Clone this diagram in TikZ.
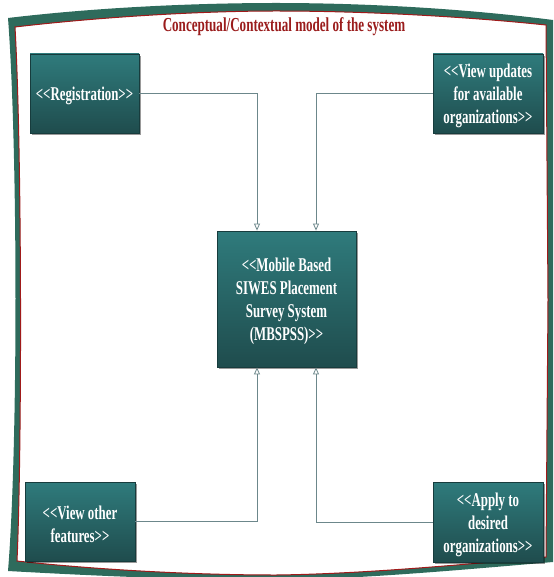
\documentclass[tikz,border=0pt]{standalone}
\usepackage{fontspec}
\setmainfont{Liberation Serif}[FakeStretch=0.66]
\usetikzlibrary{arrows.meta,shadows}
\definecolor{boxtop}{HTML}{2F7B7C}
\definecolor{boxbot}{HTML}{1F4C4D}
\definecolor{boxline}{HTML}{173C3D}
\definecolor{framegreen}{HTML}{2E6B5C}
\definecolor{framered}{HTML}{A01A1A}
\definecolor{titlered}{HTML}{9A1C1C}
\definecolor{connc}{HTML}{6C878B}
\newcommand\LLt{<\kern0pt<}
\newcommand\GGt{>\kern0pt>}
\tikzset{
  ubox/.style={draw=boxline, line width=0.8pt, top color=boxtop, bottom color=boxbot,
    inner sep=0pt,
    drop shadow={shadow xshift=1.8pt, shadow yshift=-2pt, opacity=0.4, fill=black}},
  btext/.style={text=white, align=center, inner sep=0pt,
    font=\bfseries\fontsize{19.5}{23}\selectfont},
  conn/.style={draw=connc, line width=0.8pt, -{Triangle[open, length=7pt, width=6pt]}},
}
\begin{document}
\begin{tikzpicture}[x=1pt, y=-1pt]
\useasboundingbox (0,0) rectangle (553,577);
% frame
\fill[framegreen, even odd rule]
  (8,18) .. controls (100,7) and (200,3) .. (276,3) .. controls (360,3) and (460,8) .. (553,20)
  -- (553,562) .. controls (460,570) and (360,579) .. (276,580) .. controls (180,580) and (80,575) .. (8,571)
  .. controls (18,450) and (18,150) .. (8,18) -- cycle
  (15,27) .. controls (100,17) and (200,11) .. (276,11) .. controls (360,11) and (460,16) .. (546,25)
  -- (548,300) -- (546,557) .. controls (460,565) and (360,574) .. (276,575) .. controls (180,575) and (80,568) .. (17,561)
  .. controls (22,450) and (22,150) .. (15,27) -- cycle;
\draw[framered, line width=1pt]
  (15,27) .. controls (100,17) and (200,11) .. (276,11) .. controls (360,11) and (460,16) .. (546,25)
  -- (548,300) -- (546,557) .. controls (460,565) and (360,574) .. (276,575) .. controls (180,575) and (80,568) .. (17,561)
  .. controls (22,450) and (22,150) .. (15,27) -- cycle;
% title
\node[text=titlered, font=\bfseries\fontsize{19.8}{20}\selectfont] (title) at (284,27) {Conceptual/Contextual model of the system};
% boxes
\node[ubox, minimum width=109pt, minimum height=79pt] (reg) at (84.5,93.5) {};
\node[ubox, minimum width=110pt, minimum height=79pt] (upd) at (488,93.5) {};
\node[ubox, minimum width=139pt, minimum height=136pt] (cen) at (286.5,299) {};
\node[ubox, minimum width=110pt, minimum height=79pt] (oth) at (80,521.5) {};
\node[ubox, minimum width=110pt, minimum height=80pt] (app) at (488,522) {};
% texts
\node[btext] (regt) at ([yshift=-2.5pt]reg.center) {\LLt Registration\GGt};
\node[btext] (updt) at ([yshift=-2.5pt]upd.center) {\LLt View updates\\for available\\organizations\GGt};
\node[btext] (cent) at ([yshift=-2.5pt]cen.center) {\LLt Mobile Based\\SIWES Placement\\Survey System\\(MBSPSS)\GGt};
\node[btext] (otht) at ([yshift=-2.5pt]oth.center) {\LLt View other\\features\GGt};
\node[btext] (appt) at ([yshift=-2.5pt]app.center) {\LLt Apply to\\desired\\organizations\GGt};
% connectors
\draw[conn] (reg.east) -| ([xshift=-29.5pt]cen.north);
\draw[conn] (upd.west) -| ([xshift=29.5pt]cen.north);
\draw[conn] (oth.east) -| ([xshift=-29.5pt]cen.south);
\draw[conn] (app.west) -| ([xshift=29.5pt]cen.south);
\end{tikzpicture}
\end{document}
